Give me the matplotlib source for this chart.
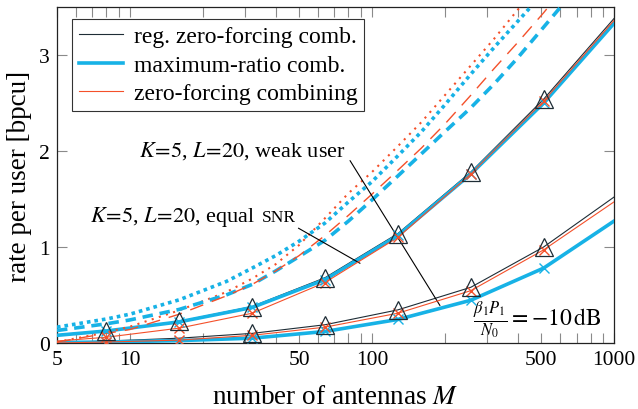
import matplotlib
matplotlib.use('Agg')
import matplotlib.pyplot as plt
from matplotlib.offsetbox import TextArea, HPacker, AnnotationBbox
from matplotlib.ticker import FixedLocator, LogLocator, NullFormatter, FixedFormatter
from matplotlib.lines import Line2D

# ---------------- data ----------------
M_sol = [5, 8, 16, 32, 64, 128, 256, 512, 1000]
# equal SNR group (solid)
rzf_eq = [0.085, 0.13, 0.225, 0.38, 0.68, 1.14, 1.78, 2.54, 3.38]
mr_eq = [0.08, 0.125, 0.22, 0.37, 0.66, 1.12, 1.76, 2.50, 3.33]
zf_eq = [0.02, 0.06, 0.155, 0.31, 0.63, 1.10, 1.76, 2.52, 3.36]
# weak user group (solid)
rzf_w = [0.005, 0.02, 0.05, 0.10, 0.19, 0.345, 0.58, 1.00, 1.52]
zf_w = [0.0, 0.01, 0.03, 0.08, 0.165, 0.31, 0.545, 0.97, 1.47]
mr_w = [0.005, 0.01, 0.025, 0.05, 0.12, 0.245, 0.445, 0.78, 1.27]

M_dash = [5, 8, 10, 16, 25, 32, 40, 50, 64, 80, 100, 128, 160, 200, 256, 320, 400, 512, 640]
mr_dotted = [0.165, 0.25, 0.30, 0.45, 0.64, 0.78, 0.91, 1.06, 1.25, 1.47, 1.68, 1.95, 2.20, 2.48, 2.80, 3.08, 3.35, 3.65, 3.94]
zf_dotted = [0.01, 0.11, 0.17, 0.34, 0.53, 0.67, 0.82, 1.02, 1.30, 1.56, 1.78, 2.05, 2.30, 2.58, 2.89, 3.17, 3.47, 3.78, 4.07]
mr_dashed = [0.13, 0.20, 0.24, 0.35, 0.50, 0.61, 0.75, 0.90, 1.07, 1.27, 1.49, 1.74, 1.97, 2.20, 2.45, 2.70, 2.97, 3.29, 3.58]
zf_dashed = [0.01, 0.10, 0.14, 0.30, 0.49, 0.61, 0.75, 0.91, 1.12, 1.33, 1.55, 1.80, 2.03, 2.28, 2.58, 2.86, 3.13, 3.44, 3.74]

xticks = [5, 10, 50, 100, 500, 1000]
xticklabels = ['5', '10', '50', '100', '500', '1000']
yticks = [0, 1, 2, 3]
yticklabels = ['0', '1', '2', '3']
legend_labels = ['reg. zero-forcing comb.', 'maximum-ratio comb.', 'zero-forcing combining']

# annotation anchors (data coords)
weak_text_pos = (29.1, 2.01)
weak_line = ((81.2, 1.90), (191, 0.39))
eq_text_pos = (18.2, 1.32)
eq_line = ((49.7, 1.196), (89.3, 0.83))
snr_text_pos = (481, 0.25)

# ---------------- style ----------------
plt.rcParams['font.family'] = ['Liberation Serif', 'DejaVu Serif']
plt.rcParams['mathtext.fontset'] = 'stix'

BLACK = '#1e2d36'
CYAN = '#17b2e6'
RED = '#f4502a'

fig = plt.figure(figsize=(6.38, 4.10), dpi=100)
ax = fig.add_axes([0.0893, 0.161, 0.8731, 0.8195])

lw_thin = 0.8
lw_thick = 2.6

for rzf, mr, zf, tri in [(rzf_eq, mr_eq, zf_eq, slice(1, 8)), (rzf_w, mr_w, zf_w, slice(3, 8))]:
    ax.plot(M_sol, rzf, color=BLACK, lw=lw_thin, zorder=2)
    ax.plot(M_sol, mr, color=CYAN, lw=lw_thick, zorder=3)
    ax.plot(M_sol, zf, color=RED, lw=lw_thin, zorder=4)
    ax.plot(M_sol, mr, ls='none', marker='x', ms=6.5, mew=1.0, color=CYAN, markevery=slice(1, 8), zorder=5)
    ax.plot(M_sol, zf, ls='none', marker='x', ms=6.5, mew=1.0, color=RED, markevery=slice(1, 8), zorder=6)
    ax.plot(M_sol, rzf, ls='none', marker='^', ms=13, mew=0.9, mfc='none', mec=BLACK, markevery=tri, zorder=7)

ax.plot(M_dash, mr_dotted, color=CYAN, lw=lw_thick, ls=(0, (1, 1.1)), zorder=3)
ax.plot(M_dash, zf_dotted, color=RED, lw=1.5, ls=(0, (1, 2.6)), zorder=3)
ax.plot(M_dash, mr_dashed, color=CYAN, lw=lw_thick, ls=(0, (2.9, 1.9)), zorder=3)
ax.plot(M_dash, zf_dashed, color=RED, lw=1.0, ls=(0, (10, 6.5)), zorder=3)

ax.set_xscale('log')
ax.set_xlim(5, 1000)
ax.set_ylim(0, 3.5)
ax.xaxis.set_major_locator(FixedLocator(xticks))
ax.xaxis.set_major_formatter(FixedFormatter(xticklabels))
ax.xaxis.set_minor_locator(LogLocator(base=10, subs=range(1, 10), numticks=20))
ax.xaxis.set_minor_formatter(NullFormatter())
ax.set_yticks(yticks)
ax.set_yticklabels(yticklabels)

ax.tick_params(which='both', direction='in', top=True, right=True, color='#8a8a8a',
               labelsize=15.5, width=0.8, length=7, pad=5)
for s in ax.spines.values():
    s.set_color('#222222')
    s.set_linewidth(0.9)

ax.set_xlabel('number of antennas $M$', fontsize=19.5, labelpad=11)
ax.set_ylabel('rate per user [bpcu]', fontsize=19.5, labelpad=5)

# legend
handles = [Line2D([], [], color=BLACK, lw=lw_thin),
           Line2D([], [], color=CYAN, lw=lw_thick),
           Line2D([], [], color=RED, lw=lw_thin)]
leg = ax.legend(handles, legend_labels, loc='upper left', bbox_to_anchor=(0.027, 0.964),
                fontsize=17, frameon=True, fancybox=False, edgecolor='black',
                handlelength=1.9, handletextpad=0.45, borderpad=0.28, labelspacing=0.3,
                borderaxespad=0)
leg.get_frame().set_linewidth(0.8)

# annotations
ax.text(*weak_text_pos, r'$K\!=\!5$, $L\!=\!20$, weak user', fontsize=16,
        ha='center', va='center')
ax.annotate('', xy=weak_line[1], xytext=weak_line[0],
            arrowprops=dict(arrowstyle='-', lw=0.8, color='black', shrinkA=0, shrinkB=0))

ta1 = TextArea(r'$K\!=\!5$, $L\!=\!20$, equal', textprops=dict(fontsize=16))
ta2 = TextArea('SNR', textprops=dict(fontsize=12.5))
pack = HPacker(children=[ta1, ta2], align='baseline', pad=0, sep=5)
ab = AnnotationBbox(pack, eq_text_pos, xycoords='data', frameon=False, box_alignment=(0.5, 0.5))
ax.add_artist(ab)
ax.annotate('', xy=eq_line[1], xytext=eq_line[0],
            arrowprops=dict(arrowstyle='-', lw=0.8, color='black', shrinkA=0, shrinkB=0))

ax.text(*snr_text_pos, r'$\frac{\beta_1 P_1}{N_0} = -10\,\mathrm{dB}$', fontsize=17,
        ha='center', va='center')

fig.savefig('out.png', dpi=100)
